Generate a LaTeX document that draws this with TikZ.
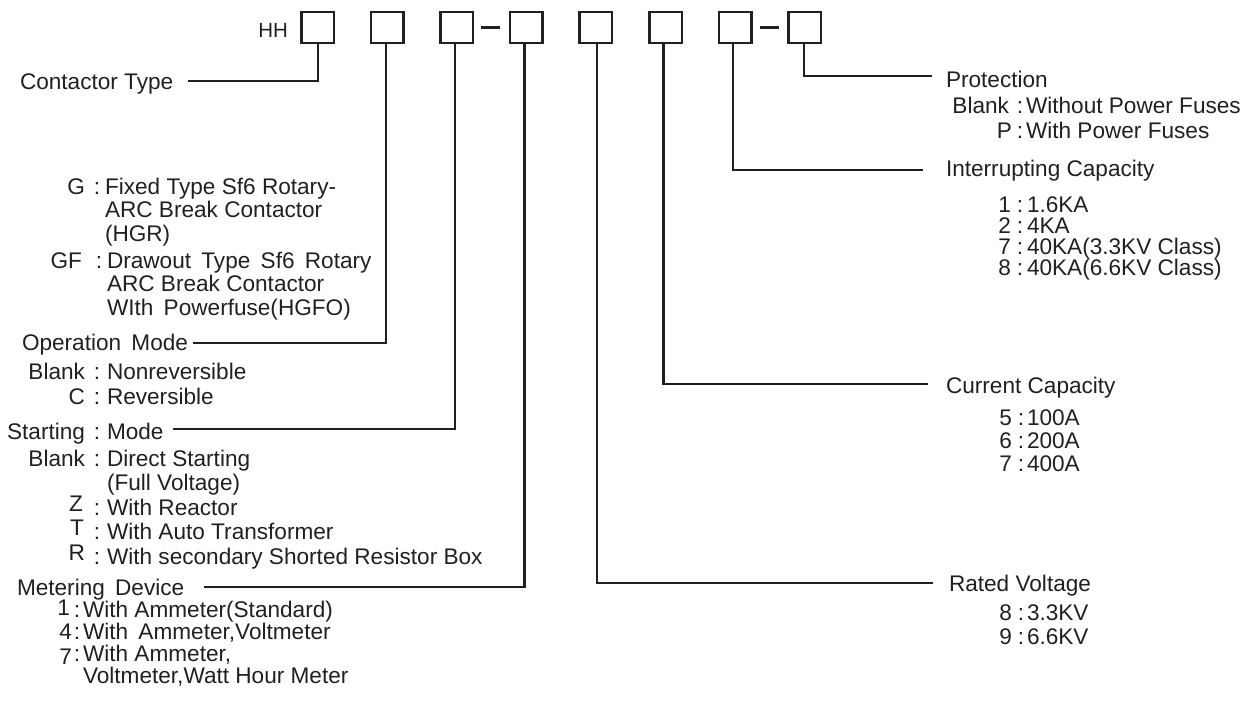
\documentclass[tikz,border=0pt]{standalone}
\usepackage{fontspec}
\setmainfont{Liberation Sans}
\definecolor{ink}{HTML}{231F20}
\newcommand\entry[8]{% name, y, key-right x, colon x, desc x, key raise, key, desc
  \node[lbl, anchor=base east] (#1k) at (#3,#2+#6) {#7};
  \node[lbl, anchor=base] (#1c) at (#4,#2) {:};
  \node[lbl, anchor=base west] (#1d) at (#5,#2) {#8};}
\begin{document}
\begin{tikzpicture}[x=1pt,y=-1pt,
  lbl/.style={inner sep=0pt, outer sep=0pt, text=ink, font=\fontsize{22.6}{25}\selectfont},
  codebox/.style={draw=ink, line width=2.5pt, minimum width=32.5pt, minimum height=31pt, inner sep=0pt},
  wire/.style={draw=ink, line width=2.5pt}]
\useasboundingbox (0,0) rectangle (1248,704);
% boxes
\foreach \i/\xx in {1/317.5,2/387.1,3/456.7,4/526.3,5/595.9,6/665.5,7/735.1,8/804.7}
  \node[codebox] (b\i) at (\xx,27.5) {};
\node[lbl, anchor=base east, font=\fontsize{20.5}{22}\selectfont] (hh) at (288,37) {HH};
\draw[wire, shorten <=7pt, shorten >=8.5pt] (b3.east) -- (b4.west);
\draw[wire, shorten <=7pt, shorten >=8.5pt] (b7.east) -- (b8.west);
% line ends
\coordinate (e1) at (188,81);
\coordinate (e2) at (193,343);
\coordinate (e3) at (173,429);
\coordinate (e4) at (204,587);
\coordinate (e5) at (933,583);
\coordinate (e6) at (928,384);
\coordinate (e7) at (923,170);
\coordinate (e8) at (932,76);
\draw[wire] ([xshift=0.5pt]b1.south) |- (e1);
\draw[wire] ([xshift=-1pt]b2.south) |- (e2);
\draw[wire] ([xshift=-1.5pt]b3.south) |- (e3);
\draw[wire] ([xshift=-2pt]b4.south) |- (e4);
\draw[wire] ([xshift=1pt]b5.south) |- (e5);
\draw[wire] ([xshift=-2pt]b6.south) |- (e6);
\draw[wire] ([xshift=-2pt]b7.south) |- (e7);
\draw[wire] ([xshift=-0.5pt]b8.south) |- (e8);
% left texts
\node[lbl, anchor=base west] (ct) at (20,89) {Contactor Type};
\entry{g}{194}{85}{97}{105}{0}{G}{Fixed Type Sf6 Rotary-}
\node[lbl, anchor=base west] (g2) at (105,217) {ARC Break Contactor};
\node[lbl, anchor=base west] (g3) at (105,241) {(HGR)};
\entry{gf}{268}{82}{99}{107}{0}{GF}{Drawout\hskip4pt\ Type\hskip4pt\ Sf6\hskip4pt\ Rotary}
\node[lbl, anchor=base west] (gf2) at (107,291) {ARC Break Contactor};
\node[lbl, anchor=base west] (gf3) at (107,315) {WIth\hskip4pt\ Powerfuse(HGFO)};
\node[lbl, anchor=base west] (om) at (22,350) {Operation\hskip4pt\ Mode};
\entry{omb}{379}{85}{97}{107}{0}{Blank}{Nonreversible}
\entry{omc}{404}{85}{97}{107}{0}{C}{Reversible}
\entry{sm}{439}{85}{97}{107}{0}{Starting}{Mode}
\entry{smb}{466}{85}{97}{107}{0}{Blank}{Direct Starting}
\node[lbl, anchor=base west] (smb2) at (107,490) {(Full Voltage)};
\entry{smz}{515}{83}{97}{107}{-4}{Z}{With Reactor}
\entry{smt}{539}{84}{97}{107}{-4}{T}{With Auto Transformer}
\entry{smr}{564}{85}{97}{107}{-4}{R}{With secondary Shorted Resistor Box}
\node[lbl, anchor=base west] (md) at (17,595) {Metering\hskip4pt\ Device};
\entry{md1}{617}{70}{77}{83}{-2}{1}{With Ammeter(Standard)}
\entry{md4}{639}{72}{77}{83}{0}{4}{With\hskip4pt\ Ammeter,Voltmeter}
\entry{md7}{661}{72}{77}{83}{3}{7}{With Ammeter,}
\node[lbl, anchor=base west] (md72) at (83,683) {Voltmeter,Watt Hour Meter};
% right texts
\node[lbl, anchor=base west] (pr) at (946,87) {Protection};
\entry{prb}{113}{1009}{1020}{1026}{0}{Blank}{Without Power Fuses}
\entry{prp}{138}{1012}{1020}{1026}{0}{P}{With Power Fuses}
\node[lbl, anchor=base west] (ic) at (946,176) {Interrupting Capacity};
\entry{ic1}{212}{1011}{1020}{1027}{0}{1}{1.6KA}
\entry{ic2}{233}{1011}{1020}{1027}{0}{2}{4KA}
\entry{ic7}{254}{1011}{1020}{1027}{0}{7}{40KA(3.3KV Class)}
\entry{ic8}{275}{1011}{1020}{1027}{0}{8}{40KA(6.6KV Class)}
\node[lbl, anchor=base west] (cc) at (946,393) {Current Capacity};
\entry{cc5}{425}{1012}{1021}{1027}{0}{5}{100A}
\entry{cc6}{448}{1012}{1021}{1027}{0}{6}{200A}
\entry{cc7}{471}{1012}{1021}{1027}{0}{7}{400A}
\node[lbl, anchor=base west] (rv) at (949,591) {Rated Voltage};
\entry{rv8}{620}{1012}{1021}{1027}{0}{8}{3.3KV}
\entry{rv9}{644}{1012}{1021}{1027}{0}{9}{6.6KV}
\end{tikzpicture}
\end{document}
